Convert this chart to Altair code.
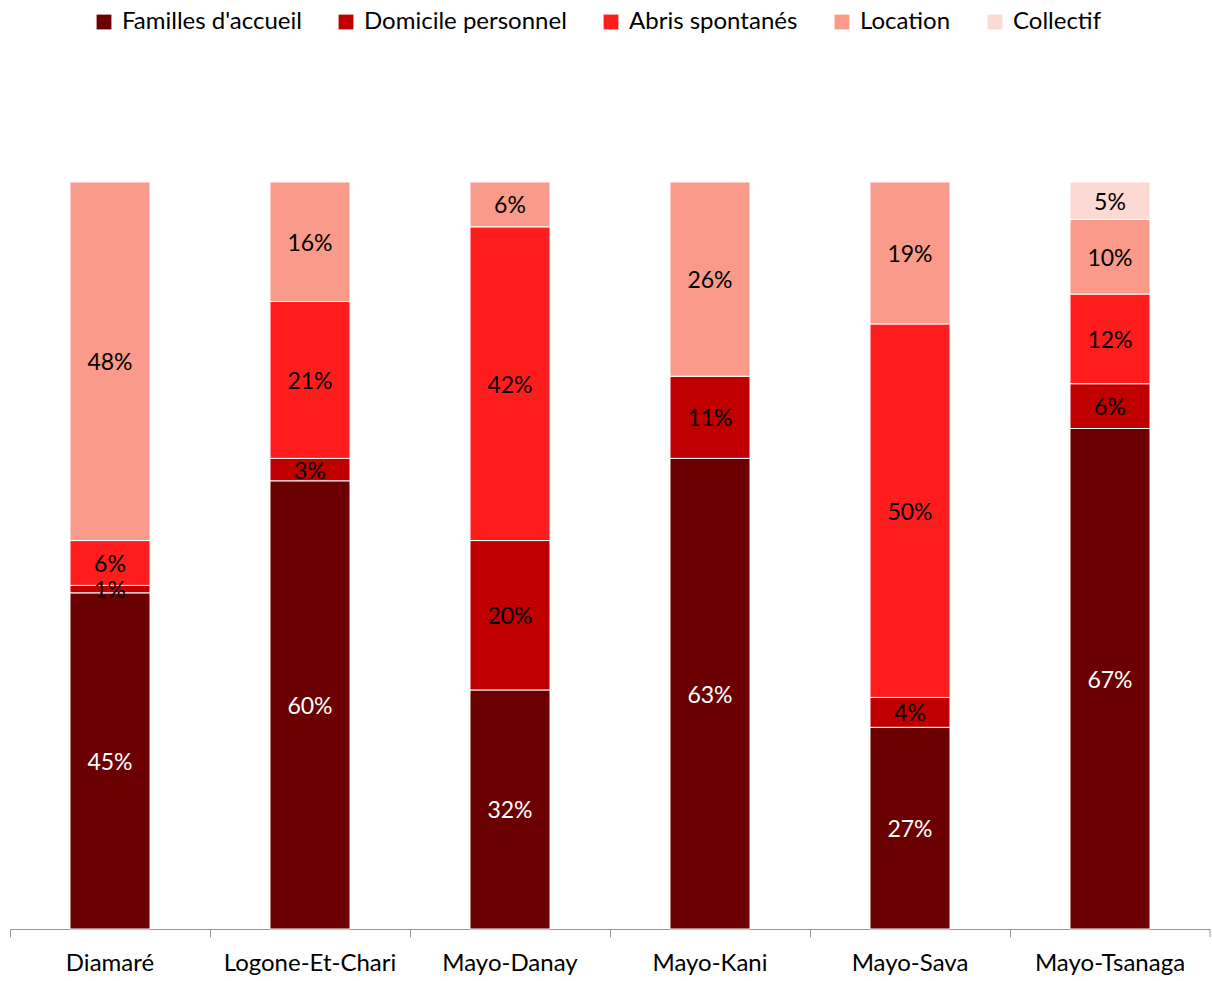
import altair as alt
import pandas as pd

regions = ["Diamaré", "Logone-Et-Chari", "Mayo-Danay", "Mayo-Kani", "Mayo-Sava", "Mayo-Tsanaga"]
series = ["Familles d'accueil", "Domicile personnel", "Abris spontanés", "Location", "Collectif"]
colors = ["#6B0000", "#C00000", "#FF1C1C", "#F99A8A", "#FDD9D4"]
familles = [45, 60, 32, 63, 27, 67]
domicile = [1, 3, 20, 11, 4, 6]
abris = [6, 21, 42, 0, 50, 12]
location = [48, 16, 6, 26, 19, 10]
collectif = [0, 0, 0, 0, 0, 5]

rows = []
for si, (s, vals) in enumerate(zip(series, [familles, domicile, abris, location, collectif])):
    for r, v in zip(regions, vals):
        if v > 0:
            rows.append({"region": r, "serie": s, "idx": si, "value": v,
                         "label": f"{v}%", "white": si == 0})
df = pd.DataFrame(rows)

FONT = "Lato"

base = alt.Chart(df).transform_stack(
    stack="value", groupby=["region"], as_=["y0", "y1"],
    sort=[alt.SortField("idx", order="ascending")]
).transform_calculate(mid="(datum.y0 + datum.y1) / 2")

xenc = alt.X("region:N", sort=regions, title=None,
             scale=alt.Scale(paddingInner=0, paddingOuter=0),
             axis=alt.Axis(labelAngle=0, labelFontSize=24, labelFont=FONT, labelColor="#000",
                           labelPadding=14, tickSize=8, tickColor="#999", domainColor="#999",
                           bandPosition=0, grid=False))

yscale = alt.Scale(domain=[0, 100], nice=False)

bars = base.mark_bar(size=80, stroke="white", strokeWidth=1).encode(
    x=xenc,
    y=alt.Y("y0:Q", scale=yscale, axis=None),
    y2="y1:Q",
    color=alt.Color("serie:N", sort=series,
                    scale=alt.Scale(domain=series, range=colors),
                    legend=alt.Legend(title=None, orient="none", direction="horizontal",
                                      legendX=82, legendY=-172, columns=5,
                                      symbolType="square", symbolSize=220,
                                      symbolStrokeWidth=0, labelFontSize=24,
                                      labelFont=FONT, labelColor="#000",
                                      labelOffset=6,
                                      columnPadding=32, labelLimit=400)),
)

text = base.mark_text(fontSize=23, font=FONT, baseline="middle", dy=2).encode(
    x=alt.X("region:N", sort=regions),
    y=alt.Y("mid:Q", scale=yscale),
    text="label:N",
    color=alt.condition("datum.white", alt.value("white"), alt.value("black")),
)

edge = alt.Chart(pd.DataFrame({"v": [0]})).mark_rule(color="#999", strokeWidth=1).encode(
    x=alt.value(1200), y=alt.value(747), y2=alt.value(755)
)

chart = alt.layer(bars, text, edge).properties(
    width=1200, height=747,
    padding={"left": 10, "top": 182, "right": 2, "bottom": 52},
    autosize=alt.AutoSizeParams(type="none"),
).configure(background="white", view=alt.ViewConfig(stroke=None))

chart.save("out.html", embed_options={"renderer": "svg", "actions": False})
